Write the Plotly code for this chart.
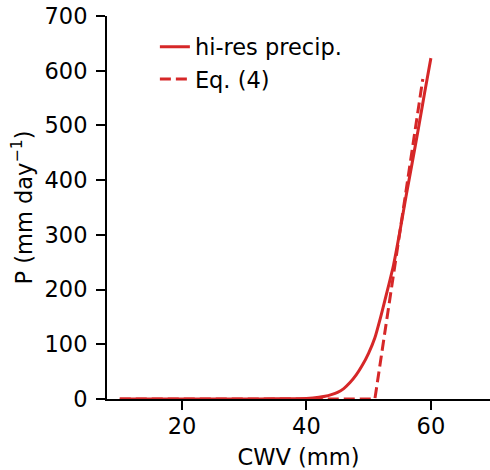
import plotly.graph_objects as go

# Hi-res precipitation pickup curve
cwv_hires = [10, 20, 30, 35, 40, 42, 43, 44, 45, 46, 47, 48, 49, 50, 51, 52, 53, 54, 55, 56, 57, 58, 59, 60]
p_hires = [0, 0, 0, 0.5, 1, 3, 5, 8, 12, 19, 30, 44, 62, 84, 112, 153, 198, 245, 305, 370, 432, 495, 560, 623]

# Eq. (4) linear fit
cwv_eq4 = [10, 51.0, 58.7]
p_eq4 = [0, 0, 585]

red = "#d62728"
font_family = "DejaVu Sans"
fs = 22.5

fig = go.Figure()
fig.add_trace(go.Scatter(x=cwv_hires, y=p_hires, mode="lines", name="hi-res precip.",
                         line=dict(color=red, width=3, shape="spline", smoothing=0.6),
                         legendgroup="a"))
fig.add_trace(go.Scatter(x=cwv_eq4, y=p_eq4, mode="lines", name="Eq. (4)",
                         line=dict(color=red, width=3, dash="11px,5px"), legendgroup="b"))

axis_common = dict(showline=True, linecolor="black", linewidth=2, ticks="outside",
                   ticklen=9, tickwidth=2, tickcolor="black", showgrid=False, zeroline=False,
                   tickfont=dict(family=font_family, size=fs, color="black"))

fig.update_layout(
    width=490, height=470,
    margin=dict(l=107, r=0, t=16, b=71),
    paper_bgcolor="white", plot_bgcolor="white",
    font=dict(family=font_family, size=fs, color="black"),
    xaxis=dict(range=[7.95, 69.5], tickvals=[20, 40, 60], ticklabelstandoff=-3,
               title=dict(text="CWV (mm)", standoff=14, font=dict(size=fs)), **axis_common),
    yaxis=dict(range=[0, 700], tickvals=[0, 100, 200, 300, 400, 500, 600, 700],
               ticklabelstandoff=4,
               title=dict(text="P (mm day<sup>\u22121</sup>)", standoff=6, font=dict(size=fs)),
               **axis_common),
    legend=dict(x=0.125, y=0.975, xanchor="left", yanchor="top", bgcolor="rgba(0,0,0,0)",
                font=dict(size=fs), tracegroupgap=0),
    showlegend=True,
)

fig.write_html("out.html")
